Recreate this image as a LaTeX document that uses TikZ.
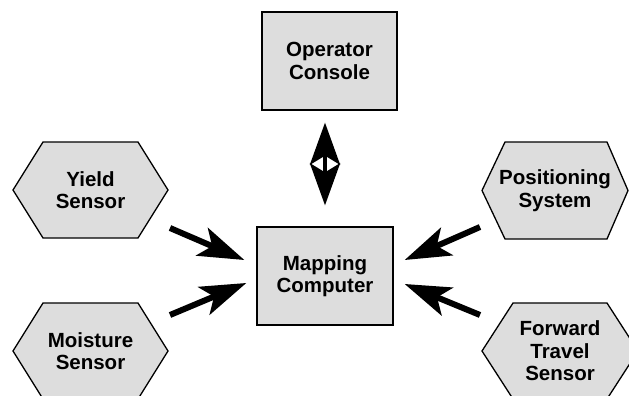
\documentclass[tikz,border=0pt]{standalone}
\usepackage{fontspec}
\setmainfont{Liberation Sans}
\usepackage{tikz}
\usetikzlibrary{arrows.meta,calc}

\definecolor{panelgray}{RGB}{221,221,221}

\begin{document}
\begin{tikzpicture}[x=1pt,y=-1pt,
  txt/.style={font=\fontsize{20.5}{22.5}\selectfont\bfseries, align=center, inner sep=0pt},
  panel/.style={txt, draw=black, fill=panelgray, line width=1.3pt, minimum height=98pt},
  hexline/.style={draw=black, fill=panelgray, line width=1.3pt, line join=miter},
  feed/.style={line width=6pt, -{Stealth[length=46pt, width=30pt, inset=11pt]}},
  duplex/.style={line width=4pt, {Stealth[length=42pt, width=30pt, inset=9pt]}-{Stealth[length=42pt, width=30pt, inset=9pt]}}]
\useasboundingbox (0,0) rectangle (629,396);

% centres of the sensor hexagons
\node[coordinate] (Y) at (90.5,190) {};
\node[coordinate] (M) at (90.5,351) {};
\node[coordinate] (P) at (555,190.5) {};
\node[coordinate] (F) at (560,351) {};

% draw the hexagons
\draw[hexline] (Y) ++(-77.5,0) -- ++(30,-48) -- ++(95,0) -- ++(30,48) -- ++(-30,48) -- ++(-95,0) -- cycle;
\draw[hexline] (M) ++(-77.5,0) -- ++(30,-48) -- ++(95,0) -- ++(30,48) -- ++(-30,48) -- ++(-95,0) -- cycle;
\draw[hexline] (P) ++(-73,0) -- ++(23,-48.5) -- ++(102,0) -- ++(21,48.5) -- ++(-21,48.5) -- ++(-102,0) -- cycle;
\draw[hexline] (F) ++(-78,0) -- ++(31,-48) -- ++(94,0) -- ++(31,48) -- ++(-31,48) -- ++(-94,0) -- cycle;

\node[txt] (ys) at (Y) {Yield\\Sensor};
\node[txt] (ms) at (M) {Moisture\\Sensor};
\node[txt] (ps) at (P) {Positioning\\System};
\node[txt] (fs) at (F) {Forward\\Travel\\Sensor};

% the two boxes
\node[panel, minimum width=135pt] (oc) at (329.5,61) {Operator\\Console};
\node[panel, minimum width=136pt] (mc) at (325,276) {Mapping\\Computer};

% draw the arrows
\draw[duplex, shorten <=12pt, shorten >=21pt] (oc.south -| mc.north) -- (mc.north);
\draw[feed] ($(ys)+(79.5,38)$) -- ($(mc.west)+(-12,-16)$);
\draw[feed] ($(ms)+(79.5,-36)$) -- ($(mc.west)+(-10,7)$);
\draw[feed] ($(ps)+(-75,36.5)$) -- ($(mc.east)+(11,-16)$);
\draw[feed] ($(fs)+(-80,-36)$) -- ($(mc.east)+(11,8)$);

\end{tikzpicture}
\end{document}
